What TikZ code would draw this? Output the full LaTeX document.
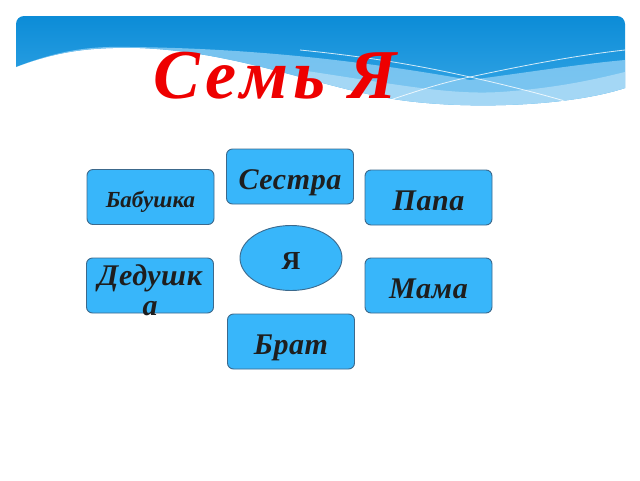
\documentclass[tikz,border=0pt]{standalone}
\usepackage{fontspec}
\setmainfont{Liberation Serif}
\usetikzlibrary{shapes.geometric}
\definecolor{boxfill}{RGB}{56,182,250}
\definecolor{boxline}{RGB}{60,105,140}
\definecolor{txtcol}{RGB}{30,30,30}
\definecolor{bannertop}{RGB}{12,140,215}
\definecolor{bannerbot}{RGB}{60,170,232}
\definecolor{bannerpale}{RGB}{135,203,243}
\definecolor{titlered}{RGB}{238,0,0}
\begin{document}
\begin{tikzpicture}[x=1pt,y=-1pt,
  famebox/.style={draw=boxline, fill=boxfill, line width=0.9pt, rounded corners=6pt,
    minimum width=127pt, minimum height=55pt, inner sep=0pt, text=txtcol,
    text height=26pt, text depth=0pt,
    font=\fontsize{30}{30}\selectfont\bfseries\itshape\addfontfeatures{LetterSpace=2}},
  smallfont/.style={font=\fontsize{23}{23}\selectfont\bfseries\itshape, text height=20pt},
  meoval/.style={ellipse, draw=boxline, fill=boxfill, line width=0.9pt,
    minimum width=102pt, minimum height=65pt, inner sep=0pt, text=txtcol,
    text height=23pt, text depth=0pt,
    font=\fontsize{26}{26}\selectfont\bfseries},
  streak/.style={draw=white, line width=0.8pt, opacity=0.8}]
\useasboundingbox (0,0) rectangle (640,480);
\fill[white] (0,0) rectangle (640,480);
% banner
\begin{scope}
\clip (16,67) -- (16,24) arc[start angle=180, end angle=90, radius=8pt] -- (617,16)
  arc[start angle=90, end angle=0, radius=8pt] -- (625,88)
  .. controls (570,106) and (470,110) .. (400,100)
  .. controls (320,88) and (240,52) .. (140,48)
  .. controls (95,47) and (60,50) .. (16,67) -- cycle;
\shade[top color=bannertop, bottom color=bannerbot] (16,16) rectangle (625,115);
\fill[bannerpale, opacity=0.85] (16,67) .. controls (60,50) and (90,46) .. (130,47)
  .. controls (220,48) and (330,55) .. (470,80) .. controls (530,72) and (580,64) .. (625,60)
  -- (625,150) -- (16,150) -- cycle;
\fill[bannerpale!60!white, opacity=0.7] (300,70) .. controls (400,85) and (450,95) .. (500,92)
  .. controls (560,88) and (600,78) .. (625,72) -- (625,150) -- (300,150) -- cycle;
\draw[streak] (300,50) .. controls (380,58) and (430,68) .. (470,77) .. controls (510,86) and (545,95) .. (575,104);
\draw[streak] (393,99) .. controls (420,90) and (445,82) .. (470,77) .. controls (530,64) and (580,55) .. (625,50);
\end{scope}
% title
\node[anchor=base west, inner sep=0pt, text=titlered,
  font=\fontsize{70}{70}\selectfont\bfseries\itshape\addfontfeatures{LetterSpace=7.5}] (title) at (153,98) {Семь Я};
% boxes
\node[famebox] (sestra) at (290,176.5) {Сестра};
\node[famebox, smallfont] (babushka) at (150.5,197) {Бабушка};
\node[famebox] (papa) at (428.5,197.5) {Папа};
\node[meoval] (ya) at (291,258) {Я};
\node[famebox, text height=0pt] (dedushka) at (150,285.5)
  {\raisebox{-15pt}[0pt][0pt]{\begin{tabular}{@{}c@{}}Дедушк\\а\end{tabular}}};
\node[famebox] (mama) at (428.5,285.5) {Мама};
\node[famebox] (brat) at (291,341.5) {Брат};
\end{tikzpicture}
\end{document}
